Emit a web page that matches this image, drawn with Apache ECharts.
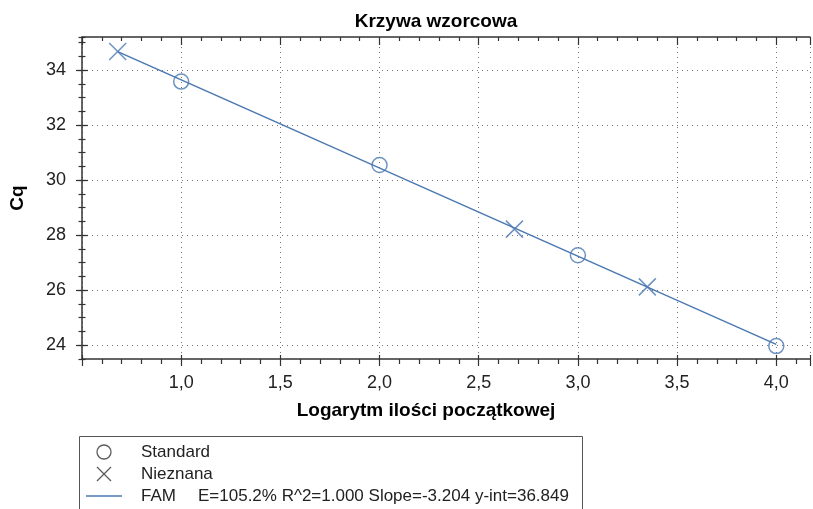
<!DOCTYPE html>
<html><head><meta charset="utf-8">
<script src="https://cdn.jsdelivr.net/npm/echarts@6/dist/echarts.min.js"></script>
<style>html,body{margin:0;padding:0;background:#fff}#c{width:813px;height:509px}</style>
</head><body><div id="c"></div>
<script>
var standardPoints = [[1.0, 33.58], [2.0, 30.55], [3.0, 27.27], [4.0, 23.97]];
var unknownPoints = [[0.68, 34.67], [2.68, 28.22], [3.35, 26.12]];
var famLine = [[0.68, 34.67], [4.0, 24.03]];
var xTickValues = [1.0, 1.5, 2.0, 2.5, 3.0, 3.5, 4.0];
var xTickLabels = ['1,0', '1,5', '2,0', '2,5', '3,0', '3,5', '4,0'];
var yTickValues = [24, 26, 28, 30, 32, 34];
var legendNames = ['Standard', 'Nieznana', 'FAM'];
var famStats = 'E=105.2% R^2=1.000 Slope=-3.204 y-int=36.849';

var BLUE = '#4a78b0';
var AX = '#333';
var FONT = '"Liberation Sans", Arial, sans-serif';
var XPATH = 'path://M0,0L10,10M10,0L0,10';
var LINEPATH = 'path://M0,0L0,0M0,6.3L36,6.3L36,7.7L0,7.7ZM36,14L36,14';

var chart = echarts.init(document.getElementById('c'), null, {renderer: 'canvas'});
function xLabel(v) {
  for (var i = 0; i < xTickValues.length; i++) if (Math.abs(v - xTickValues[i]) < 1e-6) return xTickLabels[i];
  return '';
}
var xBase = {type: 'value', min: 0.5, max: 4.17, interval: 0.5, gridIndex: 0};
var yBase = {type: 'value', min: 23.5, max: 35.2, interval: 0.5, gridIndex: 0};
var hiddenLine = {show: false, onZero: false};
var tickStyle = {color: AX, width: 1.2};
var option = {
  animation: false,
  title: {text: 'Krzywa wzorcowa', left: 431, textAlign: 'center', top: 7,
    textStyle: {fontFamily: FONT, fontSize: 19, fontWeight: 'bold', color: '#000'}},
  grid: {left: 77, right: 0, top: 37, bottom: 150, containLabel: false},
  xAxis: [
    Object.assign({}, xBase, {position: 'bottom',
      name: 'Logarytm ilości początkowej', nameLocation: 'middle', nameGap: 42,
      nameTextStyle: {fontFamily: FONT, fontSize: 19, fontWeight: 'bold', color: '#000', padding: [0, 40, 0, 0]},
      axisLine: {show: true, onZero: false, lineStyle: {color: AX, width: 1.5}},
      axisTick: {show: true, inside: false, length: 7, lineStyle: tickStyle},
      minorTick: {show: true, splitNumber: 5, length: 5, lineStyle: tickStyle},
      axisLabel: {show: true, margin: 15, fontFamily: FONT, fontSize: 18, color: '#222', formatter: xLabel},
      splitLine: {show: true, lineStyle: {color: '#777', type: [1, 4], width: 1}}
    }),
    Object.assign({}, xBase, {position: 'bottom',
      axisLine: hiddenLine,
      axisTick: {show: true, inside: true, length: 4, lineStyle: tickStyle},
      minorTick: {show: false},
      axisLabel: {show: false}, splitLine: {show: false}
    }),
    Object.assign({}, xBase, {position: 'top',
      axisLine: {show: true, onZero: false, lineStyle: {color: AX, width: 1.5}},
      axisTick: {show: true, inside: true, length: 8, lineStyle: tickStyle},
      minorTick: {show: true, splitNumber: 5, length: 4, lineStyle: tickStyle},
      axisLabel: {show: false}, splitLine: {show: false}
    })
  ],
  yAxis: [
    Object.assign({}, yBase, {position: 'left',
      name: 'Cq', nameLocation: 'middle', nameGap: 55, nameRotate: 90,
      nameTextStyle: {fontFamily: FONT, fontSize: 19, fontWeight: 'bold', color: '#000'},
      axisLine: {show: true, onZero: false, lineStyle: {color: AX, width: 1.5}},
      axisTick: {show: true, inside: false, length: 6, lineStyle: tickStyle, customValues: yTickValues},
      axisLabel: {show: true, margin: 16, fontFamily: FONT, fontSize: 18, color: '#222', customValues: yTickValues},
      splitLine: {show: true, lineStyle: {color: '#777', type: [1, 4], width: 1}}
    }),
    Object.assign({}, yBase, {position: 'left',
      axisLine: hiddenLine,
      axisTick: {show: true, inside: true, length: 6, lineStyle: tickStyle, customValues: yTickValues},
      axisLabel: {show: false}, splitLine: {show: false}
    }),
    Object.assign({}, yBase, {position: 'left',
      axisLine: hiddenLine,
      axisTick: {show: true, inside: false, length: 3.5, lineStyle: tickStyle},
      axisLabel: {show: false}, splitLine: {show: false}
    }),
    Object.assign({}, yBase, {position: 'left',
      axisLine: hiddenLine,
      axisTick: {show: true, inside: true, length: 3.5, lineStyle: tickStyle},
      axisLabel: {show: false}, splitLine: {show: false}
    })
  ],
  legend: {
    orient: 'vertical', left: 86, top: 442, itemWidth: 36, itemHeight: 14, itemGap: 2, padding: 0,
    selectedMode: false,
    textStyle: {fontFamily: FONT, fontSize: 17, color: '#222', lineHeight: 20, padding: [0, 0, 0, 14],
      rich: {a: {fontFamily: FONT, fontSize: 17, color: '#222', width: 57, lineHeight: 20},
             b: {fontFamily: FONT, fontSize: 17, color: '#222', lineHeight: 20}}},
    formatter: function (name) { return name === 'FAM' ? '{a|FAM}{b|' + famStats + '}' : name; },
    data: [
      {name: legendNames[0], icon: 'circle', itemStyle: {color: 'rgba(0,0,0,0)', borderColor: '#333', borderWidth: 1.3}},
      {name: legendNames[1], icon: XPATH, itemStyle: {color: 'rgba(0,0,0,0)', borderColor: '#333', borderWidth: 1.3}},
      {name: legendNames[2], icon: LINEPATH, itemStyle: {color: BLUE, borderWidth: 0}}
    ]
  },
  graphic: [{type: 'rect', left: 77, top: 434, shape: {width: 503, height: 100},
    style: {fill: 'none', stroke: '#555', lineWidth: 1}, silent: true}],
  series: [
    {name: legendNames[2], type: 'line', xAxisIndex: 0, yAxisIndex: 0, data: famLine,
      showSymbol: false, symbol: 'none', lineStyle: {color: BLUE, width: 1.5}, itemStyle: {color: BLUE}, z: 2},
    {name: legendNames[0], type: 'scatter', xAxisIndex: 0, yAxisIndex: 0, data: standardPoints,
      symbol: 'circle', symbolSize: 15, itemStyle: {color: 'rgba(0,0,0,0)', borderColor: BLUE, borderWidth: 1.5}, z: 3},
    {name: legendNames[1], type: 'scatter', xAxisIndex: 0, yAxisIndex: 0, data: unknownPoints,
      symbol: XPATH, symbolSize: 17, itemStyle: {color: 'rgba(0,0,0,0)', borderColor: BLUE, borderWidth: 1.5}, z: 3}
  ]
};
chart.setOption(option);
</script></body></html>
